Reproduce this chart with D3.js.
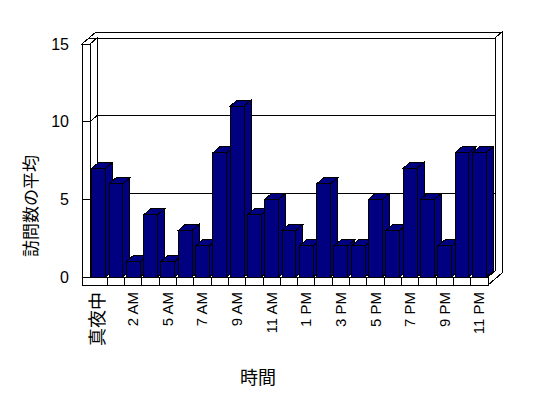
<!DOCTYPE html>
<html>
<head>
<meta charset="utf-8">
<script src="https://cdn.jsdelivr.net/npm/d3@7"></script>
<style>
  body { margin: 0; background: #fff; }
  svg { display: block; }
  text { font-family: "Liberation Sans", Arial, "Noto Sans CJK JP", sans-serif; fill: #000; }
  .cjk { font-family: "Noto Sans CJK JP", sans-serif; }
</style>
</head>
<body>
<svg></svg>
<script>
// hours (3 AM has no data in the source)
var categories = ['真夜中', '1 AM', '2 AM', '4 AM', '5 AM', '6 AM', '7 AM', '8 AM', '9 AM', '10 AM', '11 AM', '正午',
  '1 PM', '2 PM', '3 PM', '4 PM', '5 PM', '6 PM', '7 PM', '8 PM', '9 PM', '10 PM', '11 PM'];
var visits = [7, 6, 1, 4, 1, 3, 2, 8, 11, 4, 5, 3, 2, 6, 2, 2, 5, 3, 7, 5, 2, 8, 8];
var yTicks = [0, 5, 10, 15];

var width = 548, height = 398;
var svg = d3.select('svg').attr('width', width).attr('height', height);

// front plane of the plot
var L = 90, R = 488, Y0 = 277, Ytop = 44;
var dx = 7, dy = -6;     // depth of the 3D box
var t = 8;               // thickness of left wall and floor

var x = d3.scaleBand().domain(categories).range([L, R]).paddingInner(0.2).paddingOuter(0.1);
var y = d3.scaleLinear().domain([0, 15]).range([Y0, Ytop]);

var g = svg.append('g').attr('stroke', '#000').attr('stroke-width', 1)
  .attr('shape-rendering', 'crispEdges');

function poly(pts, fill) {
  g.append('polygon')
    .attr('points', pts.map(function(p) { return p.join(','); }).join(' '))
    .attr('fill', fill || '#fff');
}
function line(x1, y1, x2, y2) {
  g.append('line').attr('x1', x1).attr('y1', y1).attr('x2', x2).attr('y2', y2);
}

var yb = function(v) { return y(v) + dy; };  // back plane

// back wall face
poly([[L + dx, Ytop + dy], [R + dx, Ytop + dy], [R + dx, Y0 + dy], [L + dx, Y0 + dy]]);
// back wall top
poly([[L - t + dx, Ytop + dy], [R + dx, Ytop + dy], [R + 2 * dx, Ytop + 2 * dy], [L - t + 2 * dx, Ytop + 2 * dy]]);
// right side of back wall + floor
poly([[R, Y0], [R, Y0 + t], [R + 2 * dx, Y0 + t + 2 * dy], [R + 2 * dx, Ytop + 2 * dy], [R + dx, Ytop + dy], [R + dx, Y0 + dy]]);
// left wall inner face
poly([[L, Ytop], [L + dx, Ytop + dy], [L + dx, Y0 + dy], [L, Y0]]);
// left wall top
poly([[L - t, Ytop], [L, Ytop], [L + dx, Ytop + dy], [L - t + dx, Ytop + dy]]);
// left wall front
poly([[L - t, Ytop], [L, Ytop], [L, Y0], [L - t, Y0]]);
// floor front
poly([[L - t, Y0], [R, Y0], [R, Y0 + t], [L - t, Y0 + t]]);

// gridlines on back wall and left wall, ticks on the front
yTicks.slice(1, 3).forEach(function(v) {
  line(L + dx, yb(v), R + dx, yb(v));
});
yTicks.slice(1, 3).forEach(function(v) {
  line(L, y(v), L + dx, yb(v));
  line(L - t, y(v), L, y(v));
});

// category ticks on the floor front
d3.range(1, categories.length).forEach(function(i) {
  var xx = x.range()[0] + i * x.step();
  line(xx, Y0, xx, Y0 + t);
});

// bars
var bw = x.bandwidth();
categories.forEach(function(c, i) {
  var x0 = x(c), x1 = x0 + bw, yt = y(visits[i]);
  poly([[x1, yt], [x1 + dx, yt + dy], [x1 + dx, Y0 + dy], [x1, Y0]], '#000080');
  poly([[x0, yt], [x0 + dx, yt + dy], [x1 + dx, yt + dy], [x1, yt]], '#000080');
  poly([[x0, yt], [x1, yt], [x1, Y0], [x0, Y0]], '#000080');
});

// y tick labels
svg.append('g').selectAll('text')
  .data(yTicks)
  .enter().append('text')
  .attr('x', 69)
  .attr('y', function(d) { return y(d); })
  .attr('dy', '0.36em')
  .attr('text-anchor', 'end')
  .style('font-size', '16px')
  .text(function(d) { return d; });

// x tick labels, every other category
svg.append('g').selectAll('text')
  .data(categories.filter(function(d, i) { return i % 2 === 0; }))
  .enter().append('text')
  .attr('transform', function(d) {
    return 'translate(' + (x(d) + bw / 2 + 5) + ',292) rotate(-90)';
  })
  .attr('text-anchor', 'end')
  .attr('class', function(d) { return /[A-Z]/.test(d) ? null : 'cjk'; })
  .style('font-size', function(d) { return /[A-Z]/.test(d) ? '15px' : '18px'; })
  .text(function(d) { return d; });

// axis titles
svg.append('text')
  .attr('class', 'cjk')
  .attr('transform', 'translate(37,206) rotate(-90)')
  .attr('text-anchor', 'middle')
  .style('font-size', '17px')
  .text('訪問数の平均');

svg.append('text')
  .attr('class', 'cjk')
  .attr('x', 258)
  .attr('y', 384)
  .attr('text-anchor', 'middle')
  .style('font-size', '18px')
  .text('時間');
</script>
</body>
</html>
